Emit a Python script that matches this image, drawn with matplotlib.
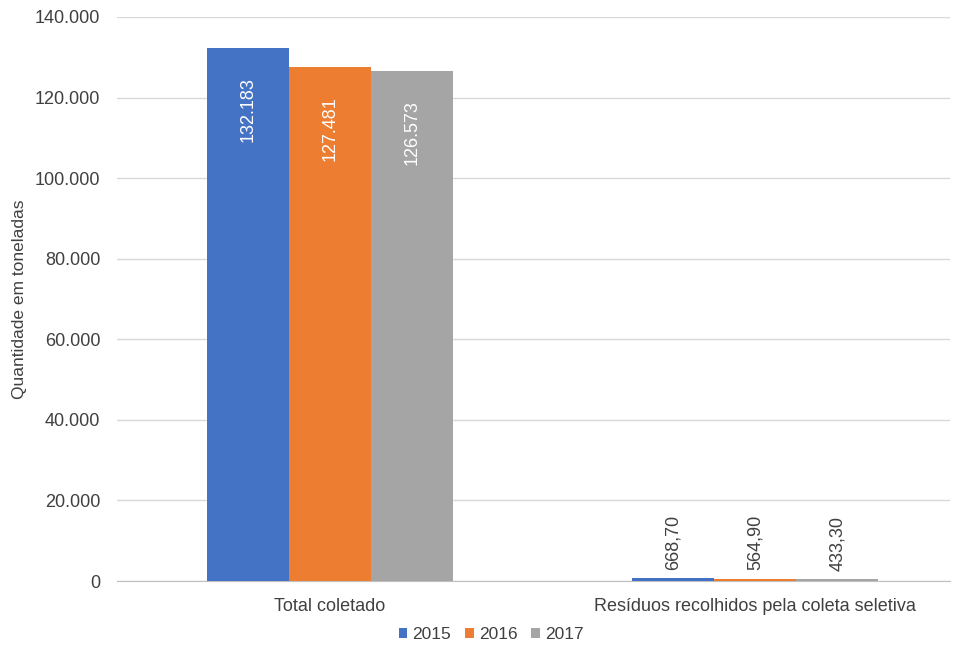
import numpy as np
import matplotlib.pyplot as plt
from matplotlib.ticker import FuncFormatter

# ---------------------------------------------------------
# DATA
# ---------------------------------------------------------
categories = ["Total coletado", "Resíduos recolhidos pela coleta seletiva"]
years = ["2015", "2016", "2017"]
values_2015 = [132183, 668.70]
values_2016 = [127481, 564.90]
values_2017 = [126573, 433.30]
colors = ["#4472C4", "#ED7D31", "#A5A5A5"]


def fmt_thousands(v):
    return f"{int(round(v)):,}".replace(",", ".")


def fmt_label(v):
    if v >= 1000:
        return fmt_thousands(v)
    return f"{v:.2f}".replace(".", ",")


# ---------------------------------------------------------
# PLOT
# ---------------------------------------------------------
plt.rcParams["font.family"] = ["Liberation Sans", "DejaVu Sans"]

fig = plt.figure(figsize=(9.6, 6.51), dpi=100)
ax = fig.add_axes([0.122, 0.1075, 0.868, 0.8665])

series = [values_2015, values_2016, values_2017]
x = np.arange(len(categories))
w = 0.193

for i, (vals, col, yr) in enumerate(zip(series, colors, years)):
    pos = x + (i - 1) * w
    ax.bar(pos, vals, width=w, color=col, label=yr, zorder=3)
    for xp, v in zip(pos, vals):
        if v > 10000:
            ax.annotate(fmt_label(v), (xp, v), xytext=(0, -21), textcoords="offset points",
                        rotation=90, ha="center", va="top", color="white",
                        fontsize=13, zorder=4)
        else:
            ax.annotate(fmt_label(v), (xp, v), xytext=(0, 6), textcoords="offset points",
                        rotation=90, ha="center", va="bottom", color="#404040",
                        fontsize=13, zorder=4)

ax.set_xlim(-0.501, 1.459)
ax.set_ylim(0, 140000)
ax.set_yticks(np.arange(0, 140001, 20000))
ax.yaxis.set_major_formatter(FuncFormatter(lambda v, p: fmt_thousands(v)))
ax.set_xticks(x, categories)

ax.grid(axis="y", color="#D9D9D9", linewidth=1, zorder=0)
for s in ["top", "right", "left"]:
    ax.spines[s].set_visible(False)
ax.spines["bottom"].set_color("#BFBFBF")
ax.tick_params(axis="both", length=0, labelsize=13, colors="#404040")
ax.tick_params(axis="x", pad=12)
ax.tick_params(axis="y", pad=12)

ax.set_ylabel("Quantidade em toneladas", fontsize=12.5, color="#404040", labelpad=6)

ax.legend(loc="upper center", bbox_to_anchor=(0.449, -0.063), ncol=3, frameon=False,
          fontsize=12.5, handlelength=0.5, handleheight=0.5, handletextpad=0.3,
          columnspacing=0.8, labelcolor="#404040", borderaxespad=0.2)

fig.savefig("out.png", dpi=100)
